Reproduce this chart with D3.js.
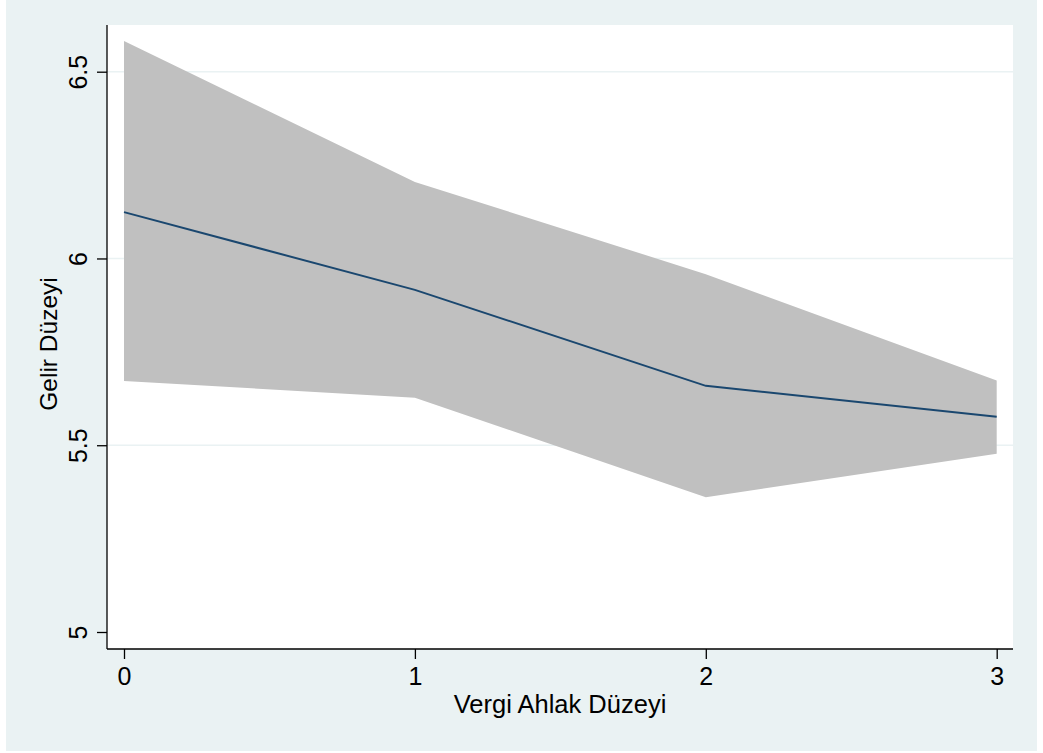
<!DOCTYPE html>
<html lang="tr">
<head>
<meta charset="utf-8">
<script src="https://cdn.jsdelivr.net/npm/d3@7"></script>
<style>
  body { margin: 0; background: #ffffff; }
  svg { display: block; }
  text { font-family: "Liberation Sans", Arial, Helvetica, sans-serif; fill: #000; }
</style>
</head>
<body>
<svg width="1043" height="753"></svg>
<script>
// vergi ahlak duzeyi (x), ortalama gelir ve guven araligi
const levels = [0, 1, 2, 3];
const meanIncome = [6.124, 5.916, 5.659, 5.576];
const upperCI = [6.582, 6.205, 5.958, 5.673];
const lowerCI = [5.672, 5.627, 5.361, 5.477];
const yTicks = [5, 5.5, 6, 6.5];
const xTicks = [0, 1, 2, 3];

const svg = d3.select('svg');
const W = 1043, H = 753;
const FONT = '"Liberation Sans", Arial, Helvetica, sans-serif';

// outer graph region
svg.append('rect')
  .attr('x', 6).attr('y', 0)
  .attr('width', W - 12).attr('height', H - 2)
  .attr('fill', '#eaf2f3');

const plot = { left: 107, top: 25, right: 1013, bottom: 649 };

svg.append('rect')
  .attr('x', plot.left).attr('y', plot.top)
  .attr('width', plot.right - plot.left).attr('height', plot.bottom - plot.top)
  .attr('fill', '#ffffff');

const x = d3.scaleLinear().domain([0, 3]).range([124, 996.7]);
const y = d3.scaleLinear().domain([5, 6.5]).range([632, 71.7]);

// grid
svg.append('g')
  .selectAll('line')
  .data(yTicks.filter(d => d > 5))
  .enter()
  .append('line')
  .attr('x1', plot.left).attr('x2', plot.right)
  .attr('y1', d => y(d)).attr('y2', d => y(d))
  .attr('stroke', '#eaf2f3')
  .attr('stroke-width', 1.6);

const rows = levels.map((l, i) => ({ x: l, m: meanIncome[i], hi: upperCI[i], lo: lowerCI[i] }));

svg.append('path')
  .datum(rows)
  .attr('d', d3.area().x(d => x(d.x)).y0(d => y(d.lo)).y1(d => y(d.hi)))
  .attr('fill', '#c0c0c0');

svg.append('path')
  .datum(rows)
  .attr('d', d3.line().x(d => x(d.x)).y(d => y(d.m)))
  .attr('fill', 'none')
  .attr('stroke', '#1a476f')
  .attr('stroke-width', 2);

// y axis
const yAxis = svg.append('g')
  .attr('transform', `translate(${plot.left},0)`)
  .call(d3.axisLeft(y).tickValues(yTicks).tickSize(10).tickSizeOuter(0).tickFormat(d3.format('')));
yAxis.attr('font-size', null).attr('font-family', null);
yAxis.select('.domain').attr('d', `M0,${plot.top}V${plot.bottom}`).attr('stroke', '#000').attr('stroke-width', 1.3);
yAxis.selectAll('.tick line').attr('stroke', '#000').attr('stroke-width', 1.3);
yAxis.selectAll('.tick text')
  .attr('x', null).attr('dy', null)
  .attr('transform', 'translate(-20,0) rotate(-90)')
  .attr('text-anchor', 'middle')
  .attr('fill', '#000')
  .style('font-size', '25px')
  .style('font-family', FONT);

// x axis
const xAxis = svg.append('g')
  .attr('transform', `translate(0,${plot.bottom})`)
  .call(d3.axisBottom(x).tickValues(xTicks).tickSize(10).tickSizeOuter(0).tickFormat(d3.format('d')));
xAxis.attr('font-size', null).attr('font-family', null);
xAxis.select('.domain').attr('d', `M${plot.left},0H${plot.right}`).attr('stroke', '#000').attr('stroke-width', 1.3);
xAxis.selectAll('.tick line').attr('stroke', '#000').attr('stroke-width', 1.3);
xAxis.selectAll('.tick text')
  .attr('y', 36).attr('dy', null)
  .attr('fill', '#000')
  .style('font-size', '25px')
  .style('font-family', FONT);

svg.append('text')
  .attr('x', 560).attr('y', 713)
  .attr('text-anchor', 'middle')
  .style('font-size', '25.5px')
  .text('Vergi Ahlak Düzeyi');

svg.append('text')
  .attr('transform', 'translate(57,344) rotate(-90)')
  .attr('text-anchor', 'middle')
  .style('font-size', '24.5px')
  .text('Gelir Düzeyi');
</script>
</body>
</html>
